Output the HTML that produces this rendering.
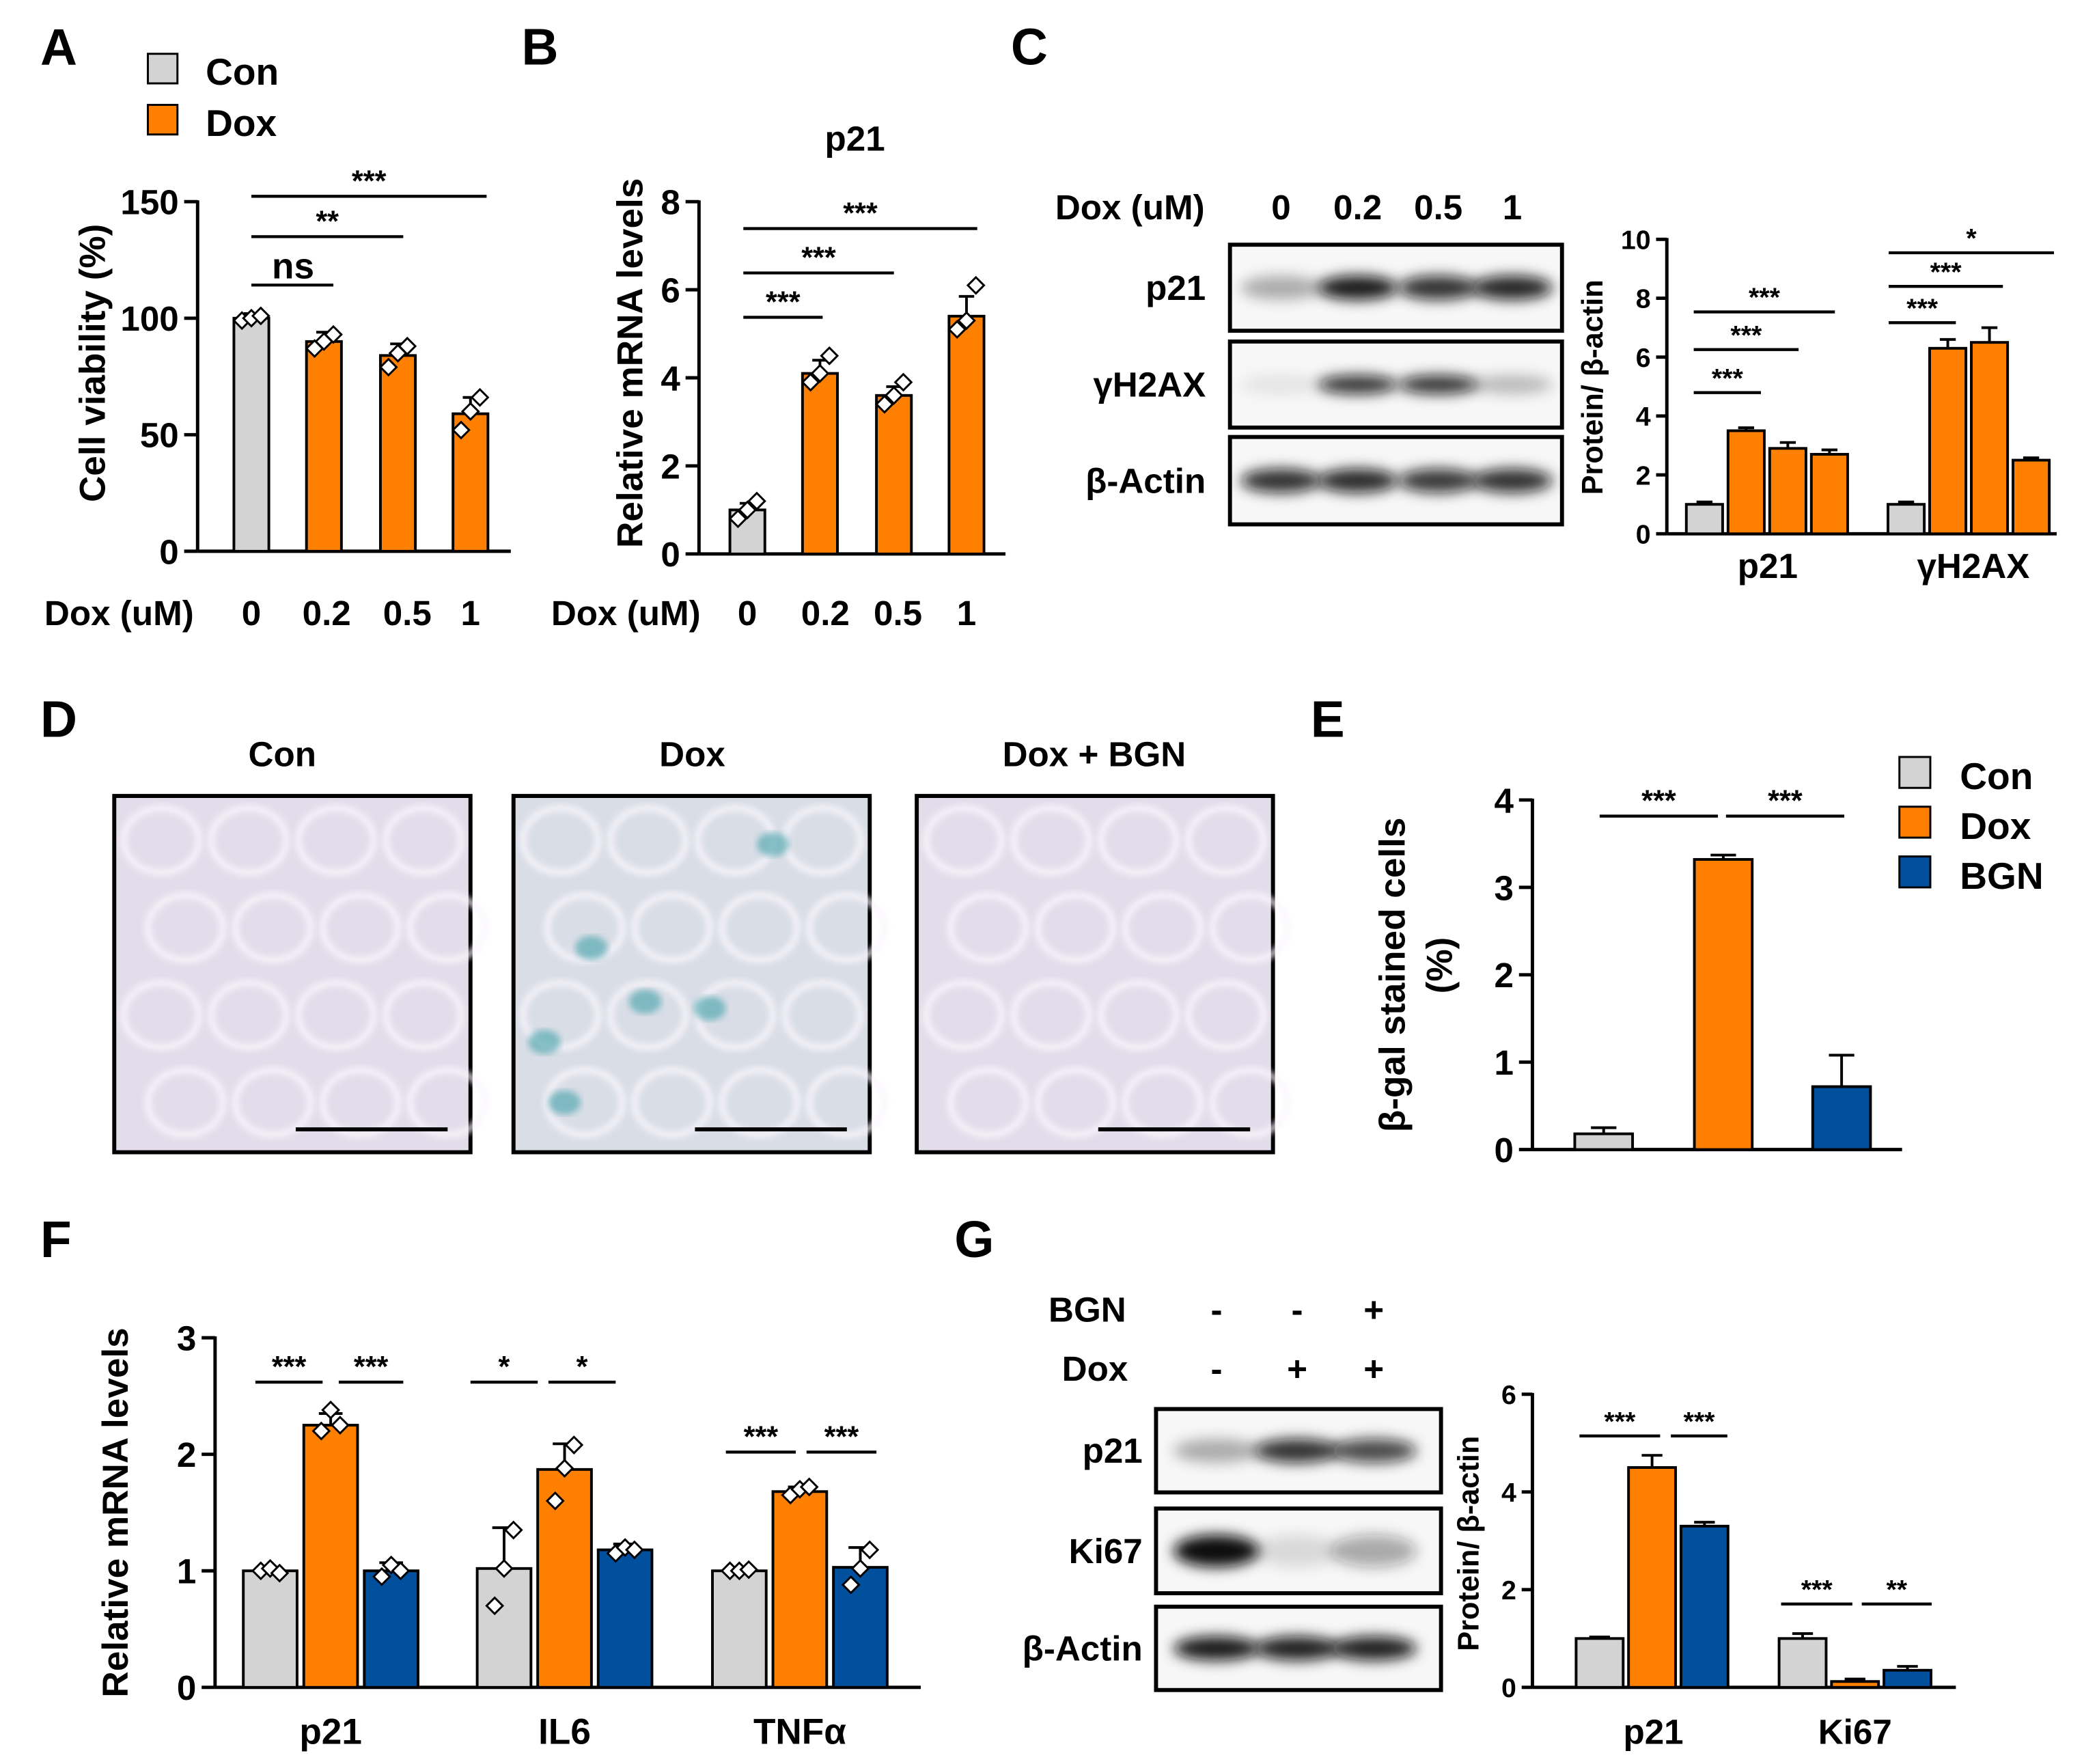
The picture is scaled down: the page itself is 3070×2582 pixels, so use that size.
<!DOCTYPE html>
<html><head><meta charset="utf-8"><style>
html,body{margin:0;padding:0;background:#fff}
svg{display:block}
text{font-family:"Liberation Sans",Arial,sans-serif;font-weight:bold;fill:#000}
</style></head><body>
<svg id="fig" width="3070" height="2582" viewBox="0 0 1560 1312" xmlns="http://www.w3.org/2000/svg">
<defs>
<filter id="blur" x="-50%" y="-100%" width="200%" height="300%"><feGaussianBlur stdDeviation="5"/></filter>
<filter id="blur2"><feGaussianBlur stdDeviation="2.5"/></filter>
</defs>
</svg>
<script>
// ---------- DATA ----------
const aCats=["0","0.2","0.5","1"];
const aVals=[100,90,84,59];
const aErr=[2,4,5,7];
const aPts=[[99,100,101],[87,90,93],[79,85,88],[52,60,66]];
const bCats=["0","0.2","0.5","1"];
const bVals=[1.0,4.1,3.6,5.4];
const bErr=[0.15,0.3,0.2,0.45];
const bPts=[[0.8,1.0,1.2],[3.9,4.1,4.5],[3.4,3.6,3.9],[5.1,5.3,6.1]];
const cGroups=["p21","γH2AX"];
const cVals=[[1.0,3.5,2.9,2.7],[1.0,6.3,6.5,2.5]];
const cErr=[[0.08,0.1,0.2,0.15],[0.08,0.3,0.5,0.08]];
const cBlotRows=["p21","γH2AX","β-Actin"];
const cBlotInt=[[0.3,0.95,0.85,0.9],[0.08,0.85,0.85,0.25],[0.85,0.88,0.82,0.85]];
const eCats=["Con","Dox","BGN"];
const eVals=[0.18,3.32,0.72];
const eErr=[0.07,0.05,0.36];
const fGroups=["p21","IL6","TNFα"];
const fVals=[[1.0,2.25,1.0],[1.02,1.87,1.18],[1.0,1.68,1.03]];
const fErr=[[0.03,0.1,0.07],[0.35,0.22,0.05],[0.02,0.04,0.17]];
const fPts=[[[1.0,1.02,0.98],[2.2,2.38,2.25],[0.95,1.05,1.0]],[[0.7,1.02,1.35],[1.6,1.88,2.08],[1.15,1.2,1.18]],[[1.0,1.0,1.01],[1.65,1.7,1.72],[0.88,1.02,1.18]]];
const gGroups=["p21","Ki67"];
const gVals=[[1.0,4.5,3.3],[1.0,0.12,0.35]];
const gErr=[[0.03,0.25,0.08],[0.1,0.05,0.08]];
const gBlotRows=["p21","Ki67","β-Actin"];
const gBlotInt=[[0.3,0.85,0.75],[1.0,0.12,0.35],[0.95,0.92,0.92]];
const COL=["#d3d3d3","#ff8000","#00509e"];

// ---------- helpers ----------
const svg=document.getElementById('fig');
const NS="http://www.w3.org/2000/svg";
function mk(tag,attrs,parent){const e=document.createElementNS(NS,tag);for(const k in attrs)e.setAttribute(k,attrs[k]);(parent||svg).appendChild(e);return e;}
function txt(x,y,s,size,anchor,parent,rot){const e=mk('text',{x:x,y:y,'font-size':size,'text-anchor':anchor||'middle'},parent);if(rot)e.setAttribute('transform','rotate(-90 '+x+' '+y+')');e.textContent=s;return e;}
function line(x1,y1,x2,y2,w,parent){return mk('line',{x1:x1,y1:y1,x2:x2,y2:y2,stroke:'#000','stroke-width':w||2.5},parent);}
function diamond(cx,cy,parent){return mk('path',{d:`M${cx} ${cy-6}L${cx+6} ${cy}L${cx} ${cy+6}L${cx-6} ${cy}Z`,fill:'#fff',stroke:'#000','stroke-width':1.5},parent);}
function yaxis(g,x,y0,yTop,max,step,fs,tick){
  const sc=v=>y0-(v/max)*(y0-yTop);
  line(x,y0,x,yTop-1,2.5,g);
  for(let v=0;v<=max+1e-9;v+=step){line(x-tick,sc(v),x,sc(v),2.5,g);const t=txt(x-tick-4,sc(v)+fs*0.36,String(v),fs,'end',g);}
  return sc;
}
function bar(g,cx,w,v,err,color,sc,y0,pts){
  const yv=sc(v);
  const r=mk('rect',{x:cx-w/2,y:yv,width:w,height:y0-yv,fill:color,stroke:'#000','stroke-width':2},g);
  
  
  const ye=sc(v+err);
  line(cx,yv,cx,ye,2,g);line(cx-w*0.22,ye,cx+w*0.22,ye,2,g);
  if(pts){const offs=[-7,0,7];pts.forEach((p,i)=>{const d=diamond(cx+offs[i],sc(p),g);});}
}
function sig(g,x1,x2,y,s,fs){line(x1,y,x2,y,2.2,g);txt((x1+x2)/2,y-4,s,fs||22,'middle',g);}
function group(name){const g=mk('g',{});return g;}
function letter(x,y,s){const t=txt(x,y,s,38,'start');}
function blot(g,x,y,w,h,ints,lanes,bw,bh){
  mk('rect',{x:x,y:y,width:w,height:h,fill:'#f7f7f7',stroke:'#000','stroke-width':3},g);
  ints.forEach((a,i)=>{const e=mk('ellipse',{cx:lanes[i],cy:y+h/2,rx:bw,ry:bh,fill:'#111','fill-opacity':a,filter:'url(#blur)'},g);});
}

// ---------- Panel A ----------
letter(30,48,'A');
{const g=group('panel-a-chart');
 const lg=group('legend-a');
 mk('rect',{x:110,y:40,width:22,height:22,fill:COL[0],stroke:'#000','stroke-width':1.5},lg);txt(153,63,'Con',28,'start',lg);
 mk('rect',{x:110,y:78,width:22,height:22,fill:COL[1],stroke:'#000','stroke-width':1.5},lg);txt(153,101,'Dox',28,'start',lg);
 const y0=410,sc=yaxis(g,147,y0,150,150,50,26,10);
 line(147,y0,380,y0,2.5,g);
 const xs=[187,241,296,350];
 aVals.forEach((v,i)=>bar(g,xs[i],26,v,aErr[i],i?COL[1]:COL[0],sc,y0,aPts[i]));
 txt(33,465,'Dox (uM)',26,'start',g);
 aCats.forEach((c,i)=>txt(xs[i]+(i==1?2:i==2?7:0),465,c,26,'middle',g));
 txt(78,270,'Cell viability (%)',27,'middle',g,true);
 line(187,212,248,212,2.2,g);txt(218,207,'ns',27,'middle',g);
 sig(g,187,300,176,'**');sig(g,187,362,146,'***');
}
// ---------- Panel B ----------
letter(388,48,'B');
{const g=group('panel-b-chart');
 const y0=412,sc=yaxis(g,520,y0,150,8,2,26,10);
 line(520,y0,748,y0,2.5,g);
 const xs=[556,610,665,719];
 bVals.forEach((v,i)=>bar(g,xs[i],26,v,bErr[i],i?COL[1]:COL[0],sc,y0,bPts[i]));
 txt(636,112,'p21',26,'middle',g);
 txt(410,465,'Dox (uM)',26,'start',g);
 bCats.forEach((c,i)=>txt(xs[i]+(i==1?4:i==2?3:0),465,c,26,'middle',g));
 txt(478,270,'Relative mRNA levels',27,'middle',g,true);
 sig(g,553,612,236,'***');sig(g,553,665,203,'***');sig(g,553,727,170,'***');
}
// ---------- Panel C ----------
letter(752,48,'C');
{const g=group('panel-c-blot');
 txt(785,163,'Dox (uM)',26,'start',g);
 const lanes=[953,1010,1070,1125];
 ['0','0.2','0.5','1'].forEach((c,i)=>txt(lanes[i],163,c,26,'middle',g));
 const rows=[[182,64],[254,64],[325,65]];
 cBlotRows.forEach((r,i)=>{txt(897,rows[i][0]+rows[i][1]/2+9,r,26,'end',g);blot(g,915,rows[i][0],247,rows[i][1],cBlotInt[i],lanes,30,i==1?7:9);});
 const c=group('panel-c-chart');
 const y0=397,sc=yaxis(c,1240,y0,178,10,2,20,8);
 line(1240,y0,1530,y0,2.5,c);
 const gx=[1268,1418];
 cVals.forEach((arr,gi)=>arr.forEach((v,i)=>bar(c,gx[gi]+i*31,27,v,cErr[gi][i],i?COL[1]:COL[0],sc,y0)));
 cGroups.forEach((s,i)=>txt([1315,1468][i],430,s,26,'middle',c));
 txt(1192,288,'Protein/ β-actin',22,'middle',c,true);
 sig(c,1260,1310,292,'***',20);sig(c,1260,1338,260,'***',20);sig(c,1260,1365,232,'***',20);
 sig(c,1405,1455,240,'***',20);sig(c,1405,1490,213,'***',20);sig(c,1405,1528,188,'*',20);
}
// ---------- Panel D ----------
letter(30,548,'D');
{const g=group('panel-d-images');
 const boxes=[[85,'Con',210],[382,'Dox',515],[682,'Dox + BGN',814]];
 boxes.forEach((b,bi)=>{
  const im=group('micrograph-'+bi);g.appendChild(im);
  txt(b[2],570,b[1],26,'middle',im);
  mk('rect',{x:b[0],y:592,width:265,height:265,fill:bi==1?'#d9dde6':'#e3dcea',stroke:'#000','stroke-width':3},im);
  for(let r=0;r<4;r++)for(let c=0;c<4;c++){mk('ellipse',{cx:b[0]+35+c*65+(r%2)*18,cy:625+r*65,rx:28,ry:24,fill:'none',stroke:'#fbf6fd','stroke-width':4,filter:'url(#blur2)'},im);}
  if(bi==1){[[575,628],[440,705],[528,750],[405,775],[480,745],[420,820]].forEach(p=>mk('ellipse',{cx:p[0],cy:p[1],rx:12,ry:9,fill:'#3fa0a8','fill-opacity':0.6,filter:'url(#blur2)'},im));}
  line(b[0]+135,840,b[0]+248,840,3,im);
 });
}
// ---------- Panel E ----------
letter(975,548,'E');
{const g=group('panel-e-chart');
 const y0=855,sc=yaxis(g,1140,y0,595,4,1,26,10);
 line(1140,y0,1415,y0,2.5,g);
 const xs=[1193,1282,1370];
 eVals.forEach((v,i)=>bar(g,xs[i],43,v,eErr[i],COL[i],sc,y0));
 sig(g,1190,1278,607,'***');sig(g,1284,1372,607,'***');
 txt(1045,725,'β-gal stained cells',27,'middle',g,true);
 txt(1080,718,'(%)',27,'middle',g,true);
 const lg=group('legend-e');
 eCats.forEach((c,i)=>{mk('rect',{x:1413,y:563+i*37,width:23,height:23,fill:COL[i],stroke:'#000','stroke-width':1.5},lg);txt(1458,587+i*37,c,28,'start',lg);});
}
// ---------- Panel F ----------
letter(30,935,'F');
{const g=group('panel-f-chart');
 const y0=1255,sc=yaxis(g,160,y0,995,3,1,26,10);
 line(160,y0,685,y0,2.5,g);
 const gx=[201,375,550];
 fVals.forEach((arr,gi)=>arr.forEach((v,i)=>bar(g,gx[gi]+i*45,40,v,fErr[gi][i],COL[i],sc,y0,fPts[gi][i])));
 fGroups.forEach((s,i)=>txt(gx[i]+45,1297,s,27,'middle',g));
 txt(95,1125,'Relative mRNA levels',27,'middle',g,true);
 sig(g,190,240,1028,'***');sig(g,252,300,1028,'***');
 sig(g,350,400,1028,'*');sig(g,408,458,1028,'*');
 sig(g,540,592,1080,'***');sig(g,600,652,1080,'***');
}
// ---------- Panel G ----------
letter(710,935,'G');
{const g=group('panel-g-blot');
 const lanes=[905,965,1022];
 txt(780,983,'BGN',26,'start',g);txt(790,1027,'Dox',26,'start',g);
 ['-','-','+'].forEach((s,i)=>txt(lanes[i],983,s,26,'middle',g));
 ['-','+','+'].forEach((s,i)=>txt(lanes[i],1027,s,26,'middle',g));
 const rows=[[1048,62],[1122,63],[1195,62]];
 gBlotRows.forEach((r,i)=>{txt(850,rows[i][0]+rows[i][1]/2+9,r,26,'end',g);blot(g,860,rows[i][0],212,rows[i][1],gBlotInt[i],lanes,32,i==1?12:9);});
 const c=group('panel-g-chart');
 const y0=1255,sc=yaxis(c,1140,y0,1037,6,2,20,8);
 line(1140,y0,1455,y0,2.5,c);
 const gx=[1190,1341];
 gVals.forEach((arr,gi)=>arr.forEach((v,i)=>bar(c,gx[gi]+i*39,35,v,gErr[gi][i],COL[i],sc,y0)));
 gGroups.forEach((s,i)=>txt([1230,1380][i],1297,s,26,'middle',c));
 txt(1100,1148,'Protein/ β-actin',22,'middle',c,true);
 sig(c,1175,1235,1068,'***',20);sig(c,1243,1285,1068,'***',20);
 sig(c,1325,1378,1193,'***',20);sig(c,1385,1437,1193,'**',20);
}
</script>
</body></html>
